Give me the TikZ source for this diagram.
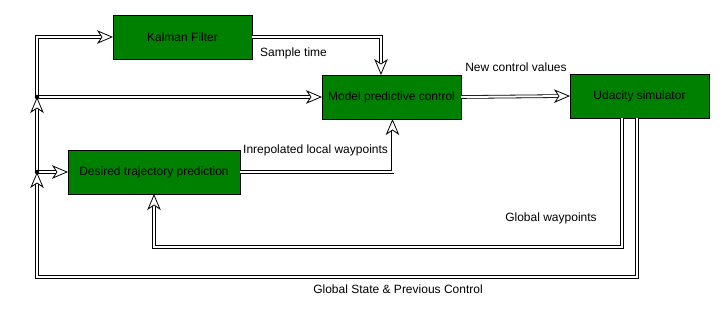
\documentclass[tikz,border=0pt]{standalone}
\usepackage{fontspec}
\setmainfont{Liberation Sans}
\usetikzlibrary{arrows.meta}
\definecolor{boxgreen}{RGB}{0,128,0}
\tikzset{
  block/.style={draw=black, line width=0.9pt, fill=boxgreen, minimum height=44pt,
    inner sep=0pt, outer sep=0pt, font=\fontsize{12}{14}\selectfont},
  % the double-stroked body of a connector, stopping where the tip begins
  dline/.style={draw=black, line width=0.8pt, double=white, double distance=2pt,
    shorten >=10.5pt},
  % the open tip, laid over the body (its own stroke is white, so it vanishes)
  tipline/.style={draw=white, line width=0.4pt, shorten <=1pt,
    -{Stealth[open, color=black, fill=white, line width=0.8pt,
      length=16pt, width=13.5pt, inset=4.5pt]}},
  lbl/.style={font=\fontsize{12}{14}\selectfont, inner sep=0pt},
  junction/.style={circle, fill=black, inner sep=0pt, minimum size=4.5pt}
}
\newcommand\dlink[1]{\draw[dline] #1; \draw[tipline] #1;}
\begin{document}
\begin{tikzpicture}[x=1pt,y=-1pt]
\useasboundingbox (0,0) rectangle (725,313);

% processing blocks
\node[block, minimum width=139pt] (kf)  at (182.5,37) {Kalman Filter};
\node[block, minimum width=139pt] (mpc) at (391.5,97) {Model predictive control};
\node[block, minimum width=139pt] (ud)  at (639.5,96) {Udacity simulator};
\node[block, minimum width=172pt] (dt)  at (154,172)  {Desired trajectory prediction};

% branch points on the left feed line
\coordinate (j1) at (37,97);
\coordinate (j2) at (37,172);

% routing corners of the feedback loops
\coordinate (gwtop)  at ([xshift=-17.5pt]ud.south);
\coordinate (gstop)  at ([xshift=-2.5pt]ud.south);
\coordinate (gwdown) at (622,247);
\coordinate (gsdown) at (637,277);

% connectors
\dlink{(j1) |- (kf.west)}
\dlink{(j1) -- (mpc.west)}
\dlink{(j2) -- (j1)}
\dlink{(j2) -- (dt.west)}
\dlink{(kf.east) -| ([xshift=-10.5pt]mpc.north)}
\dlink{(dt.east) -| ([xshift=1pt]mpc.south)}
\dlink{(mpc.east) -- (ud.west)}
\dlink{(gwtop) -- (gwdown) -| (dt.south)}
\dlink{(gstop) -- (gsdown) -| (j2)}

% junction dots
\node[junction] (j1dot) at (j1) {};
\node[junction] (j2dot) at (j2) {};

% labels
\node[lbl, anchor=west] (lst)  at (260,53)  {Sample time};
\node[lbl]              (lncv) at (516,67)  {New control values};
\node[lbl, anchor=west] (lilw) at (243,150) {Inrepolated local waypoints};
\node[lbl]              (lgw)  at (551,218) {Global waypoints};
\node[lbl]              (lgs)  at (398,289) {Global State \& Previous Control};
\end{tikzpicture}
\end{document}
